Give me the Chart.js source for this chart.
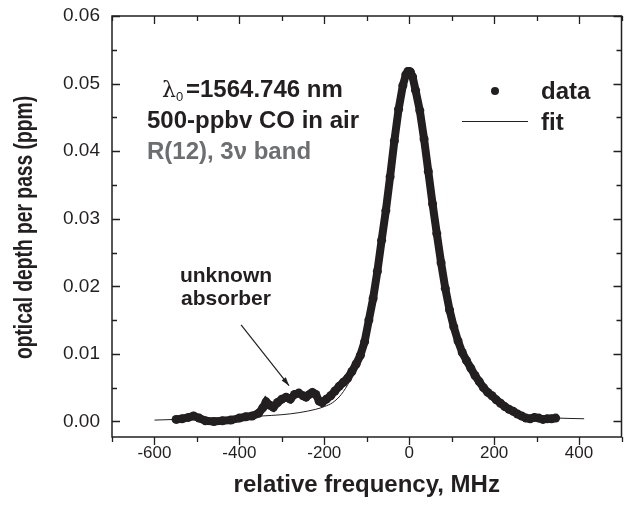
<!DOCTYPE html>
<html>
<head>
<meta charset="utf-8">
<script src="https://cdn.jsdelivr.net/npm/chart.js@4"></script>
<style>
body{margin:0;background:#fff;}
</style>
</head>
<body>
<canvas id="coChart" width="626" height="513"></canvas>
<script>
const dataFreq=[-549,-535,-520,-508,-495,-480,-460,-440,-420,-400,-385,-370,-355,-345,-337,-328,-320,-310,-300,-290,-280,-270,-260,-250,-243,-235,-228,-220,-212,-205,-195,-185,-175,-165,-155,-145,-135,-125,-115,-105,-95,-85,-75,-65,-55,-45,-35,-25,-15,-8,-3,0,3,8,15,25,35,45,55,65,75,85,95,105,115,125,135,145,155,165,175,185,195,205,215,225,235,245,255,265,275,285,295,305,315,325,335,345];
const dataDepth=[0.0003,0.0004,0.0006,0.0008,0.0005,0.0001,0.0000,0.0001,0.0002,0.0005,0.0007,0.0008,0.0012,0.0020,0.0029,0.0024,0.0021,0.0028,0.0033,0.0036,0.0033,0.0040,0.0042,0.0038,0.0036,0.0040,0.0043,0.0040,0.0030,0.0028,0.0033,0.0038,0.0045,0.0052,0.0058,0.0064,0.0074,0.0085,0.0098,0.0118,0.0150,0.0182,0.0222,0.0268,0.0312,0.0362,0.0415,0.0462,0.0497,0.0513,0.0518,0.0518,0.0517,0.0510,0.0490,0.0460,0.0418,0.0370,0.0322,0.0278,0.0235,0.0197,0.0165,0.0140,0.0119,0.0102,0.0090,0.0079,0.0068,0.0059,0.0050,0.0043,0.0038,0.0032,0.0027,0.0022,0.0018,0.0015,0.0011,0.0008,0.0005,0.0004,0.0006,0.0005,0.0003,0.0004,0.0004,0.0005];

// fitted profile
const fitFreq=[-600,-550,-500,-450,-400,-350,-300,-260,-220,-200,-180,-160,-140,-120,-100,-80,-60,-40,-20,-10,0,10,20,40,60,80,100,120,140,160,180,200,250,300,350,412];
const fitDepth=[0.0002,0.0003,0.0004,0.0005,0.0006,0.0008,0.0010,0.0013,0.0018,0.0022,0.0028,0.0040,0.0060,0.0088,0.0130,0.0195,0.0280,0.0385,0.0475,0.0502,0.0510,0.0502,0.0475,0.0395,0.0300,0.0210,0.0140,0.0102,0.0076,0.0058,0.0043,0.0032,0.0014,0.0007,0.0005,0.0004];

// ticks: labelled ones and all marks
const xLabels=[-600,-400,-200,0,200,400];
const xMarks=[-700,-600,-500,-400,-300,-200,-100,0,100,200,300,400,500];
const yLabels=[0.00,0.01,0.02,0.03,0.04,0.05,0.06];
const yMarks=[0.000,0.005,0.010,0.015,0.020,0.025,0.030,0.035,0.040,0.045,0.050,0.055,0.060];

const ink="#231f20";
const sans="'Liberation Sans', Arial, Helvetica, sans-serif";

function toXY(xs,ys){
return xs.map((x,i)=>({x:x,y:ys[i]}));
}
function isLabel(list,v){
return list.some(t=>Math.abs(t-v)<1e-9);
}

// frame, ticks, legend and notes
const decor={
id:"decor",
afterDraw(chart){
let ctx=chart.ctx;
let a=chart.chartArea;
let xs=chart.scales.x;
let ys=chart.scales.y;
ctx.save();
ctx.strokeStyle=ink;
ctx.fillStyle=ink;
ctx.lineWidth=1.5;
ctx.strokeRect(a.left,a.top,a.right-a.left,a.bottom-a.top);

ctx.lineWidth=1.3;
ctx.beginPath();
xMarks.forEach(v=>{
let p=Math.round(xs.getPixelForValue(v))+0.5;
let len=isLabel(xLabels,v)?8:5;
ctx.moveTo(p,a.bottom);ctx.lineTo(p,a.bottom+len);
ctx.moveTo(p,a.top);ctx.lineTo(p,a.top+len);
});
yMarks.forEach(v=>{
let p=Math.round(ys.getPixelForValue(v))+0.5;
let len=isLabel(yLabels,v)?8:5;
ctx.moveTo(a.left,p);ctx.lineTo(a.left+len,p);
ctx.moveTo(a.right,p);ctx.lineTo(a.right-len,p);
});
ctx.stroke();

// y axis title, condensed along its length
ctx.save();
ctx.translate(25,(a.top+a.bottom)/2+1);
ctx.rotate(-Math.PI/2);
ctx.scale(0.77,1);
ctx.font="bold 25px "+sans;
ctx.textAlign="center";
ctx.textBaseline="middle";
ctx.fillText("optical depth per pass (ppm)",0,0);
ctx.restore();

// legend
ctx.beginPath();
ctx.arc(495,91,4,0,Math.PI*2);
ctx.fill();
ctx.lineWidth=1;
ctx.beginPath();
ctx.moveTo(462,121.5);ctx.lineTo(528,121.5);
ctx.stroke();
ctx.font="bold 24px "+sans;
ctx.textBaseline="alphabetic";
ctx.textAlign="left";
ctx.fillText("data",541,99);
ctx.fillText("fit",541,130);

// line description
ctx.font="22px 'DejaVu Serif', serif";
ctx.fillText("\u03bb",162,97);
ctx.font="13px "+sans;
ctx.fillText("0",176,101);
ctx.font="bold 24px "+sans;
ctx.fillText("=1564.746 nm",186,97);
ctx.fillText("500-ppbv CO in air",147,128);
ctx.fillStyle="#6d6e70";
ctx.fillText("R(12), 3\u03bd band",147,159);

// unknown absorber note
ctx.fillStyle=ink;
ctx.font="bold 21px "+sans;
ctx.textAlign="center";
ctx.fillText("unknown",226,282);
ctx.fillText("absorber",226,305);

let x0=xs.getPixelForValue(-396),y0=ys.getPixelForValue(0.0143);
let x1=xs.getPixelForValue(-283),y1=ys.getPixelForValue(0.0053);
let ang=Math.atan2(y1-y0,x1-x0);
ctx.lineWidth=1.2;
ctx.beginPath();
ctx.moveTo(x0,y0);ctx.lineTo(x1,y1);
ctx.stroke();
ctx.beginPath();
ctx.moveTo(x1,y1);
ctx.lineTo(x1-9*Math.cos(ang-0.3),y1-9*Math.sin(ang-0.3));
ctx.lineTo(x1-9*Math.cos(ang+0.3),y1-9*Math.sin(ang+0.3));
ctx.closePath();
ctx.fill();
ctx.restore();
}
};

new Chart(
document.getElementById("coChart"),
{
type:"scatter",
data:{
datasets:[
{
label:"data",
data:toXY(dataFreq,dataDepth),
showLine:true,
borderColor:ink,
backgroundColor:ink,
borderWidth:8,
pointRadius:4.5,
pointBorderWidth:0,
order:2
},
{
label:"fit",
data:toXY(fitFreq,fitDepth),
showLine:true,
borderColor:ink,
borderWidth:1,
pointRadius:0,
cubicInterpolationMode:"monotone",
order:1
}
]
},
options:{
responsive:false,
animation:false,
layout:{padding:{top:16,right:2}},
plugins:{legend:{display:false},tooltip:{enabled:false}},
scales:{
x:{
type:"linear",
min:-700,
max:500,
afterBuildTicks(s){s.ticks=xMarks.map(v=>({value:v}));},
afterFit(s){s.height=76;s.paddingLeft=0;s.paddingRight=0;},
grid:{display:false,drawTicks:false},
border:{display:false},
ticks:{
padding:6,
color:ink,
font:{family:sans,size:17},
maxRotation:0,
autoSkip:false,
callback:v=>isLabel(xLabels,v)?String(v):""
},
title:{
display:true,
text:"relative frequency, MHz",
color:ink,
font:{family:sans,size:24,weight:"bold"},
padding:{top:0,bottom:13}
}
},
y:{
min:-0.0023,
max:0.06,
afterBuildTicks(s){s.ticks=yMarks.map(v=>({value:v}));},
afterFit(s){s.width=112;s.paddingTop=0;s.paddingBottom=0;},
grid:{display:false,drawTicks:false},
border:{display:false},
ticks:{
padding:12,
color:ink,
font:{family:sans,size:19},
autoSkip:false,
callback:v=>isLabel(yLabels,v)?v.toFixed(2):""
},
title:{display:false}
}
}
},
plugins:[decor]
}
);
</script>
</body>
</html>
